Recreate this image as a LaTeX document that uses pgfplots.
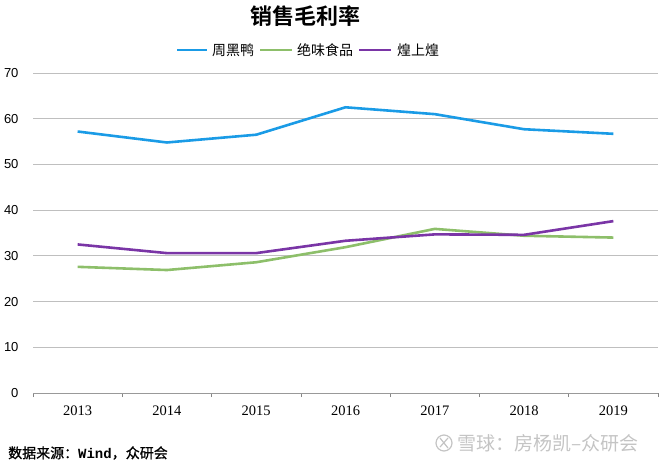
\documentclass[border=0pt]{standalone}
\usepackage{pgfplots}
\pgfplotsset{compat=1.18}
\usepackage{fontspec}
\setmainfont{Liberation Sans}
\newfontfamily\cjk{Noto Sans CJK SC}
\newfontfamily\cjkm[FakeBold=0.8]{Noto Sans CJK SC}
\newfontfamily\cjkb{Noto Sans CJK SC Bold}
\newfontfamily\serifnum{Liberation Serif}
\newfontfamily\monob{Liberation Mono Bold}
\definecolor{cblue}{HTML}{1A9BE6}
\definecolor{cgreen}{HTML}{8DBF6A}
\definecolor{cpurple}{HTML}{7A35A6}
\definecolor{cgrid}{HTML}{BFBFBF}
\definecolor{wm}{HTML}{C4C4C4}
\begin{document}
\begin{tikzpicture}
\useasboundingbox (0pt,0pt) rectangle (660pt,464pt);
\begin{axis}[
  at={(33pt,71pt)}, anchor=south west,
  scale only axis, width=625pt, height=320pt,
  xmin=-0.5, xmax=6.5, ymin=0, ymax=70,
  xtick={-0.5,0.5,1.5,2.5,3.5,4.5,5.5,6.5},
  xticklabels={},
  major x tick style={draw=cgrid!70!black, line width=0.6pt},
  major tick length=4pt, tick align=outside,
  extra x ticks={0,1,2,3,4,5,6},
  extra x tick labels={2013,2014,2015,2016,2017,2018,2019},
  extra x tick style={major tick length=0pt, tick style={draw=none},
     xticklabel style={font=\serifnum\fontsize{14.5}{16}\selectfont, anchor=center, yshift=-18pt}},
  ytick={0,10,...,70},
  yticklabel style={font=\fontsize{13}{15}\selectfont, anchor=east, xshift=-7pt},
  /pgf/number format/assume math mode=true,
  ymajorgrids, grid style={cgrid, line width=0.8pt},
  major y tick style={draw=none},
  axis x line*=bottom, axis y line*=left,
  y axis line style={draw=none},
  x axis line style={cgrid!80!black, line width=0.8pt, -},
  clip=false,
]
\addplot[cblue, line width=2.6pt] coordinates {(0,57.2) (1,54.8) (2,56.5) (3,62.5) (4,61.0) (5,57.7) (6,56.7)};
\addplot[cgreen, line width=2.6pt] coordinates {(0,27.6) (1,26.9) (2,28.6) (3,31.9) (4,35.9) (5,34.4) (6,34.0)};
\addplot[cpurple, line width=2.6pt] coordinates {(0,32.5) (1,30.6) (2,30.6) (3,33.3) (4,34.7) (5,34.6) (6,37.6)};
\end{axis}
% title
\node[font=\cjkb\fontsize{22}{25}\selectfont] at (305pt,448pt) {销售毛利率};
% legend
\draw[cblue, line width=2.6pt] (177pt,414pt) -- (207pt,414pt);
\node[anchor=west, inner sep=0pt, font=\cjk\fontsize{14}{16}\selectfont] at (212pt,414pt) {周黑鸭};
\draw[cgreen, line width=2.6pt] (260pt,414pt) -- (292pt,414pt);
\node[anchor=west, inner sep=0pt, font=\cjk\fontsize{14}{16}\selectfont] at (297pt,414pt) {绝味食品};
\draw[cpurple, line width=2.6pt] (359pt,414pt) -- (391pt,414pt);
\node[anchor=west, inner sep=0pt, font=\cjk\fontsize{14}{16}\selectfont] at (397pt,414pt) {煌上煌};
% source
\node[anchor=west, inner sep=0pt, font=\cjkm\fontsize{14}{16}\selectfont] at (8pt,11pt) {数据来源：{\monob Wind}，众研会};
% watermark
\draw[wm, line width=1.2pt] (444pt,21pt) circle (8pt);
\draw[wm, line width=1.2pt] (440pt,26pt) -- (448pt,16pt) (448pt,26pt) .. controls (444pt,22pt) .. (440pt,17pt);
\node[anchor=west, inner sep=0pt, text=wm, font=\cjk\fontsize{19}{21}\selectfont] at (457pt,21pt) {雪球：房杨凯–众研会};
\end{tikzpicture}
\end{document}
